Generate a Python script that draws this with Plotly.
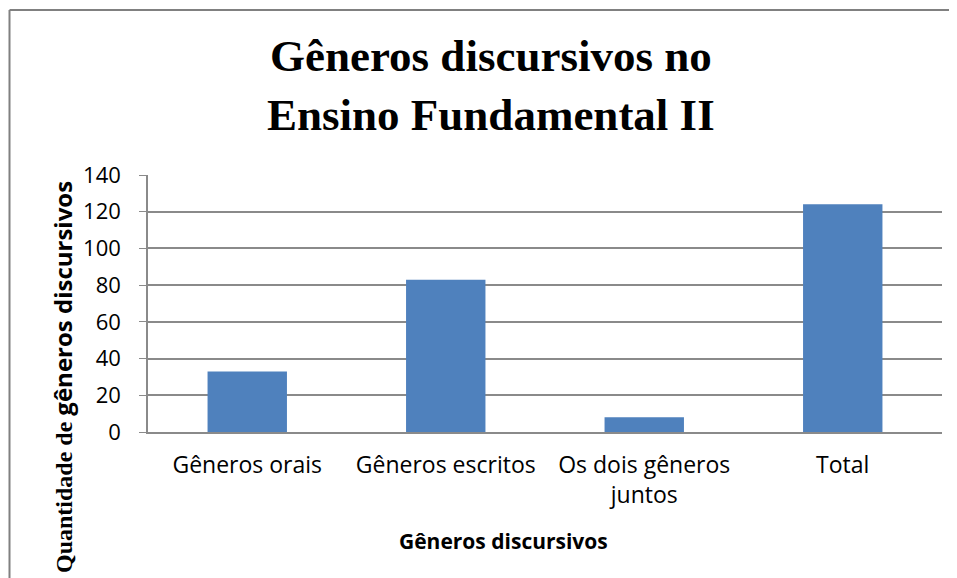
import plotly.graph_objects as go

categories = ["Gêneros orais", "Gêneros escritos", "Os dois gêneros<br>juntos", "Total"]
values = [33, 83, 8, 124]
y_ticks = [0, 20, 40, 60, 80, 100, 120, 140]

OFF = 8  # page body margin
W, H = 957, 578
L, T = 148 - OFF, 175 - OFF
R = W - (942 - OFF)
B = H - (432 - OFF)
pw, ph = W - L - R, H - T - B

fig = go.Figure(go.Bar(x=categories, y=values, marker=dict(color="#4f81bd", line=dict(width=0)),
                       width=0.4))

fig.update_layout(
    width=W, height=H,
    margin=dict(l=L, r=R, t=T, b=B, autoexpand=False),
    paper_bgcolor="white", plot_bgcolor="white",
    showlegend=False,
    font=dict(family="Open Sans", size=22, color="#000000"),
)
fig.update_xaxes(showgrid=False, showline=True, linecolor="#8a8a8a", linewidth=1.5,
                 ticks="", ticklabelstandoff=12,
                 tickfont=dict(family="Open Sans", size=23, color="#000"))
fig.update_yaxes(range=[0, 140], tickvals=y_ticks, showgrid=True, gridcolor="#8a8a8a", gridwidth=1.5,
                 showline=True, linecolor="#8a8a8a", linewidth=1.5, ticks="outside", ticklen=7,
                 tickcolor="#8a8a8a", ticklabelstandoff=14, zeroline=False,
                 tickfont=dict(family="Open Sans", size=22, color="#000"))

def px(xp):
    return (xp - OFF - L) / pw

def py(yp):
    return (H - B - (yp - OFF)) / ph

# Title
fig.add_annotation(text="<b>Gêneros discursivos no<br>Ensino Fundamental II</b>", xref="paper", yref="paper",
                   x=px(491), y=py(86), xanchor="center", yanchor="middle", showarrow=False,
                   font=dict(family="Liberation Serif", size=45, color="#000"))
# Y axis title
fig.add_annotation(text="<b>Quantidade de <span style='font-family:Open Sans'>gêneros discursivos</span></b>",
                   xref="paper", yref="paper", x=px(62), y=py(377), textangle=-90,
                   xanchor="center", yanchor="middle", showarrow=False,
                   font=dict(family="Liberation Serif", size=24, color="#000"))
# X axis title
fig.add_annotation(text="<b>Gêneros discursivos</b>", xref="paper", yref="paper",
                   x=px(503), y=py(541), xanchor="center", yanchor="middle", showarrow=False,
                   font=dict(family="Open Sans", size=21, color="#000"))
# Outer chart frame (left and top edges visible)
fig.add_shape(type="line", xref="paper", yref="paper", x0=px(9.5), x1=px(9.5), y0=py(600), y1=py(10),
              line=dict(color="#808080", width=2), layer="below")
fig.add_shape(type="line", xref="paper", yref="paper", x0=px(9.5), x1=px(1000), y0=py(10), y1=py(10),
              line=dict(color="#808080", width=2), layer="below")

fig.write_html("out.html")
